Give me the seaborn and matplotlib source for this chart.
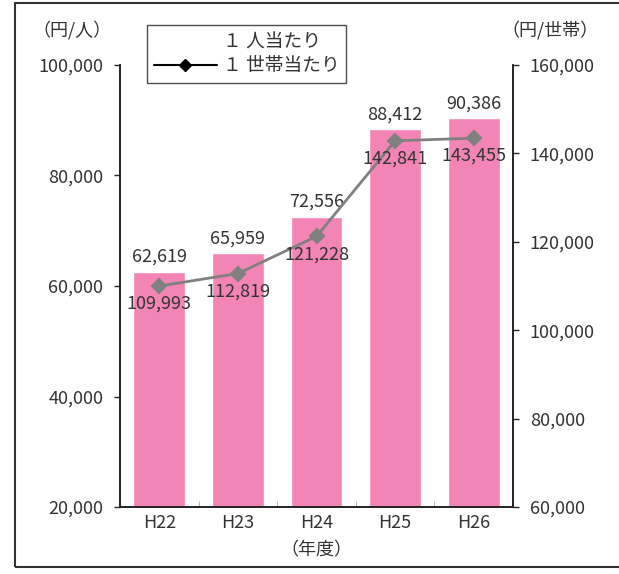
import numpy as np
import pandas as pd
import matplotlib.pyplot as plt
import seaborn as sns
from matplotlib.lines import Line2D
from matplotlib.patches import Rectangle

# data
years = ['H22', 'H23', 'H24', 'H25', 'H26']
per_person = [62619, 65959, 72556, 88412, 90386]
per_household = [109993, 112819, 121228, 142841, 143455]

sns.set_style('white')
plt.rcParams['font.family'] = ['Noto Sans CJK JP', 'DejaVu Sans']
txt = '#333333'
fs = 13

df = pd.DataFrame({'year': years, 'person': per_person, 'household': per_household})

fig = plt.figure(figsize=(6.19, 5.74), dpi=100)
ax = fig.add_axes([120 / 619, 1 - 507 / 574, 393 / 619, 442 / 574])

sns.barplot(data=df, x='year', y='person', color='#F285B5', saturation=1, width=0.66, ax=ax)
ax.set_ylim(20000, 100000)
ax.set_yticks(np.arange(20000, 100001, 20000))
ax.yaxis.set_major_formatter(plt.FuncFormatter(lambda v, p: f'{int(v):,}'))

ax2 = ax.twinx()
sns.pointplot(data=df, x='year', y='household', color='#808080', markers='D',
              markersize=7, linewidth=2, ax=ax2)
ax2.set_ylim(60000, 160000)
ax2.set_yticks(np.arange(60000, 160001, 20000))
ax2.yaxis.set_major_formatter(plt.FuncFormatter(lambda v, p: f'{int(v):,}'))
ax.set_xlim(-0.48, 4.5)

# value labels
for i, v in enumerate(per_person):
    ax.text(i, v + 1000, f'{v:,}', ha='center', va='bottom', fontsize=fs, color=txt)
for i, v in enumerate(per_household):
    ax2.text(i, v - 2000, f'{v:,}', ha='center', va='top', fontsize=fs, color=txt)

for a in (ax, ax2):
    a.set_xlabel('')
    a.set_ylabel('')
    a.spines['top'].set_visible(False)
    for s in ('left', 'right', 'bottom'):
        a.spines[s].set_color('#222222')
        a.spines[s].set_linewidth(1.2)

ax.tick_params(axis='y', direction='out', length=4, width=1, pad=8, labelsize=fs,
               labelcolor=txt, left=True)
ax2.tick_params(axis='y', direction='out', length=4, width=1, pad=8, labelsize=fs,
                labelcolor=txt, right=True)
ax.tick_params(axis='x', length=0, pad=5, labelsize=fs, labelcolor=txt)
ax.set_xticks(np.arange(-0.5, 4.6, 1), minor=True)
ax.tick_params(axis='x', which='minor', direction='in', length=4, color='#aaaaaa', bottom=True)

fig.text(72 / 619, 1 - 30 / 574, '（円/人）', ha='center', va='center', fontsize=fs, color=txt)
fig.text(550 / 619, 1 - 30 / 574, '（円/世帯）', ha='center', va='center', fontsize=fs, color=txt)
fig.text(316 / 619, 1 - 550 / 574, '（年度）', ha='center', va='center', fontsize=fs, color=txt)

handles = [Line2D([], [], linestyle='none'),
           Line2D([], [], color='black', marker='D', markersize=6, linewidth=1.5)]
leg = fig.legend(handles, ['１ 人当たり', '１ 世帯当たり'], loc='upper left',
                 bbox_to_anchor=(147 / 619, 1 - 25 / 574), fontsize=13.5, frameon=True,
                 fancybox=False, edgecolor='#222222', borderpad=0.35, labelspacing=0.15,
                 handlelength=3.4, handletextpad=0.3, borderaxespad=0, labelcolor=txt)
leg.get_frame().set_linewidth(1.0)
leg.set_zorder(5)

fig.patches.append(Rectangle((15 / 619, 1 - 567 / 574), 620 / 619, 564 / 574,
                             transform=fig.transFigure, fill=False,
                             edgecolor='#333333', linewidth=1.5))

fig.savefig('out.png', dpi=100)
